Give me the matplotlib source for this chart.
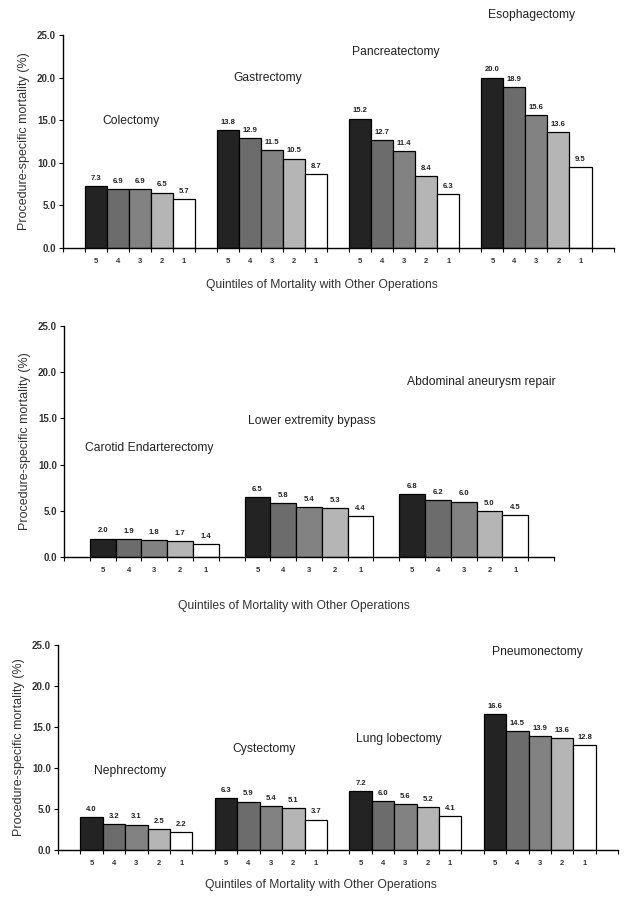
import matplotlib

matplotlib.use("Agg")
import matplotlib.pyplot as plt

plt.rcParams["font.family"] = ["Liberation Sans", "DejaVu Sans"]

QUINTILES = ["5", "4", "3", "2", "1"]
BAR_COLORS = ["#232323", "#6c6c6c", "#828282", "#b5b5b5", "#ffffff"]
YLABEL = "Procedure-specific mortality (%)"
XLABEL = "Quintiles of Mortality with Other Operations"

# panel 1
p1_names = ["Colectomy", "Gastrectomy", "Pancreatectomy", "Esophagectomy"]
p1_values = [
    [7.3, 6.9, 6.9, 6.5, 5.7],
    [13.8, 12.9, 11.5, 10.5, 8.7],
    [15.2, 12.7, 11.4, 8.4, 6.3],
    [20.0, 18.9, 15.6, 13.6, 9.5],
]

# panel 2
p2_names = ["Carotid Endarterectomy", "Lower extremity bypass",
            "Abdominal aneurysm repair"]
p2_values = [
    [2.0, 1.9, 1.8, 1.7, 1.4],
    [6.5, 5.8, 5.4, 5.3, 4.4],
    [6.8, 6.2, 6.0, 5.0, 4.5],
]

# panel 3
p3_names = ["Nephrectomy", "Cystectomy", "Lung lobectomy", "Pneumonectomy"]
p3_values = [
    [4.0, 3.2, 3.1, 2.5, 2.2],
    [6.3, 5.9, 5.4, 5.1, 3.7],
    [7.2, 6.0, 5.6, 5.2, 4.1],
    [16.6, 14.5, 13.9, 13.6, 12.8],
]

# layout: axes rect, title anchor (x, y in data units), xlabel offset
PANELS = [
    dict(names=p1_names, values=p1_values,
         rect=(0.100, 0.7244, 0.877, 0.2367),
         title_pos=[(3.1, 14.9), (9.3, 20.0), (15.1, 23.0), (21.3, 27.3)],
         xlabel_y=-0.145),
    dict(names=p2_names, values=p2_values,
         rect=(0.102, 0.3811, 0.780, 0.2567),
         title_pos=[(3.3, 11.8), (9.6, 14.7), (16.2, 18.9)],
         xlabel_y=-0.185),
    dict(names=p3_names, values=p3_values,
         rect=(0.0924, 0.0556, 0.892, 0.2278),
         title_pos=[(3.2, 9.6), (9.2, 12.3), (15.2, 13.5), (21.4, 24.1)],
         xlabel_y=-0.14),
]


def draw_panel(fig, panel):
    ax = fig.add_axes(panel["rect"])
    n_groups = len(panel["values"])
    centers = []
    for g, vals in enumerate(panel["values"]):
        xs = [1.5 + 6 * g + i for i in range(len(vals))]
        centers += xs
        ax.bar(xs, vals, width=1.0, color=BAR_COLORS,
               edgecolor="black", linewidth=0.9)
        for x, v in zip(xs, vals):
            ax.annotate(f"{v:.1f}", (x, v), xytext=(0, 3),
                        textcoords="offset points", ha="center", va="bottom",
                        fontsize=5.5, fontweight="bold", color="#222222")
    for name, (tx, ty) in zip(panel["names"], panel["title_pos"]):
        ax.text(tx, ty, name, ha="center", va="center", fontsize=8.7,
                clip_on=False, color="#222222")

    width = 6 * n_groups + 1
    ax.set_xlim(0, width)
    ax.set_ylim(0, 25)
    ax.set_yticks([0, 5, 10, 15, 20, 25])
    ax.set_yticklabels([f"{t:.1f}" for t in ax.get_yticks()],
                       fontsize=7, fontweight="bold", color="#333333")
    ax.set_xticks(centers)
    ax.set_xticklabels(QUINTILES * n_groups, fontsize=5.5, fontweight="bold",
                       color="#333333")
    ax.tick_params(axis="x", which="major", length=0, pad=7)
    ax.set_xticks(range(0, width + 1), minor=True)
    ax.tick_params(axis="x", which="minor", length=3, width=0.8,
                   direction="out")
    ax.tick_params(axis="y", length=3, width=0.8, pad=2)
    for side in ("top", "right"):
        ax.spines[side].set_visible(False)
    for side in ("left", "bottom"):
        ax.spines[side].set_linewidth(1.0)
    ax.set_ylabel(YLABEL, fontsize=9, color="#333333", labelpad=5)
    ax.set_xlabel(XLABEL, fontsize=8.7, color="#333333")
    ax.xaxis.set_label_coords(0.47, panel["xlabel_y"])
    return ax


fig = plt.figure(figsize=(6.28, 9.0), dpi=100)
for p in PANELS:
    draw_panel(fig, p)
fig.savefig("out.png", dpi=100, facecolor="white")
